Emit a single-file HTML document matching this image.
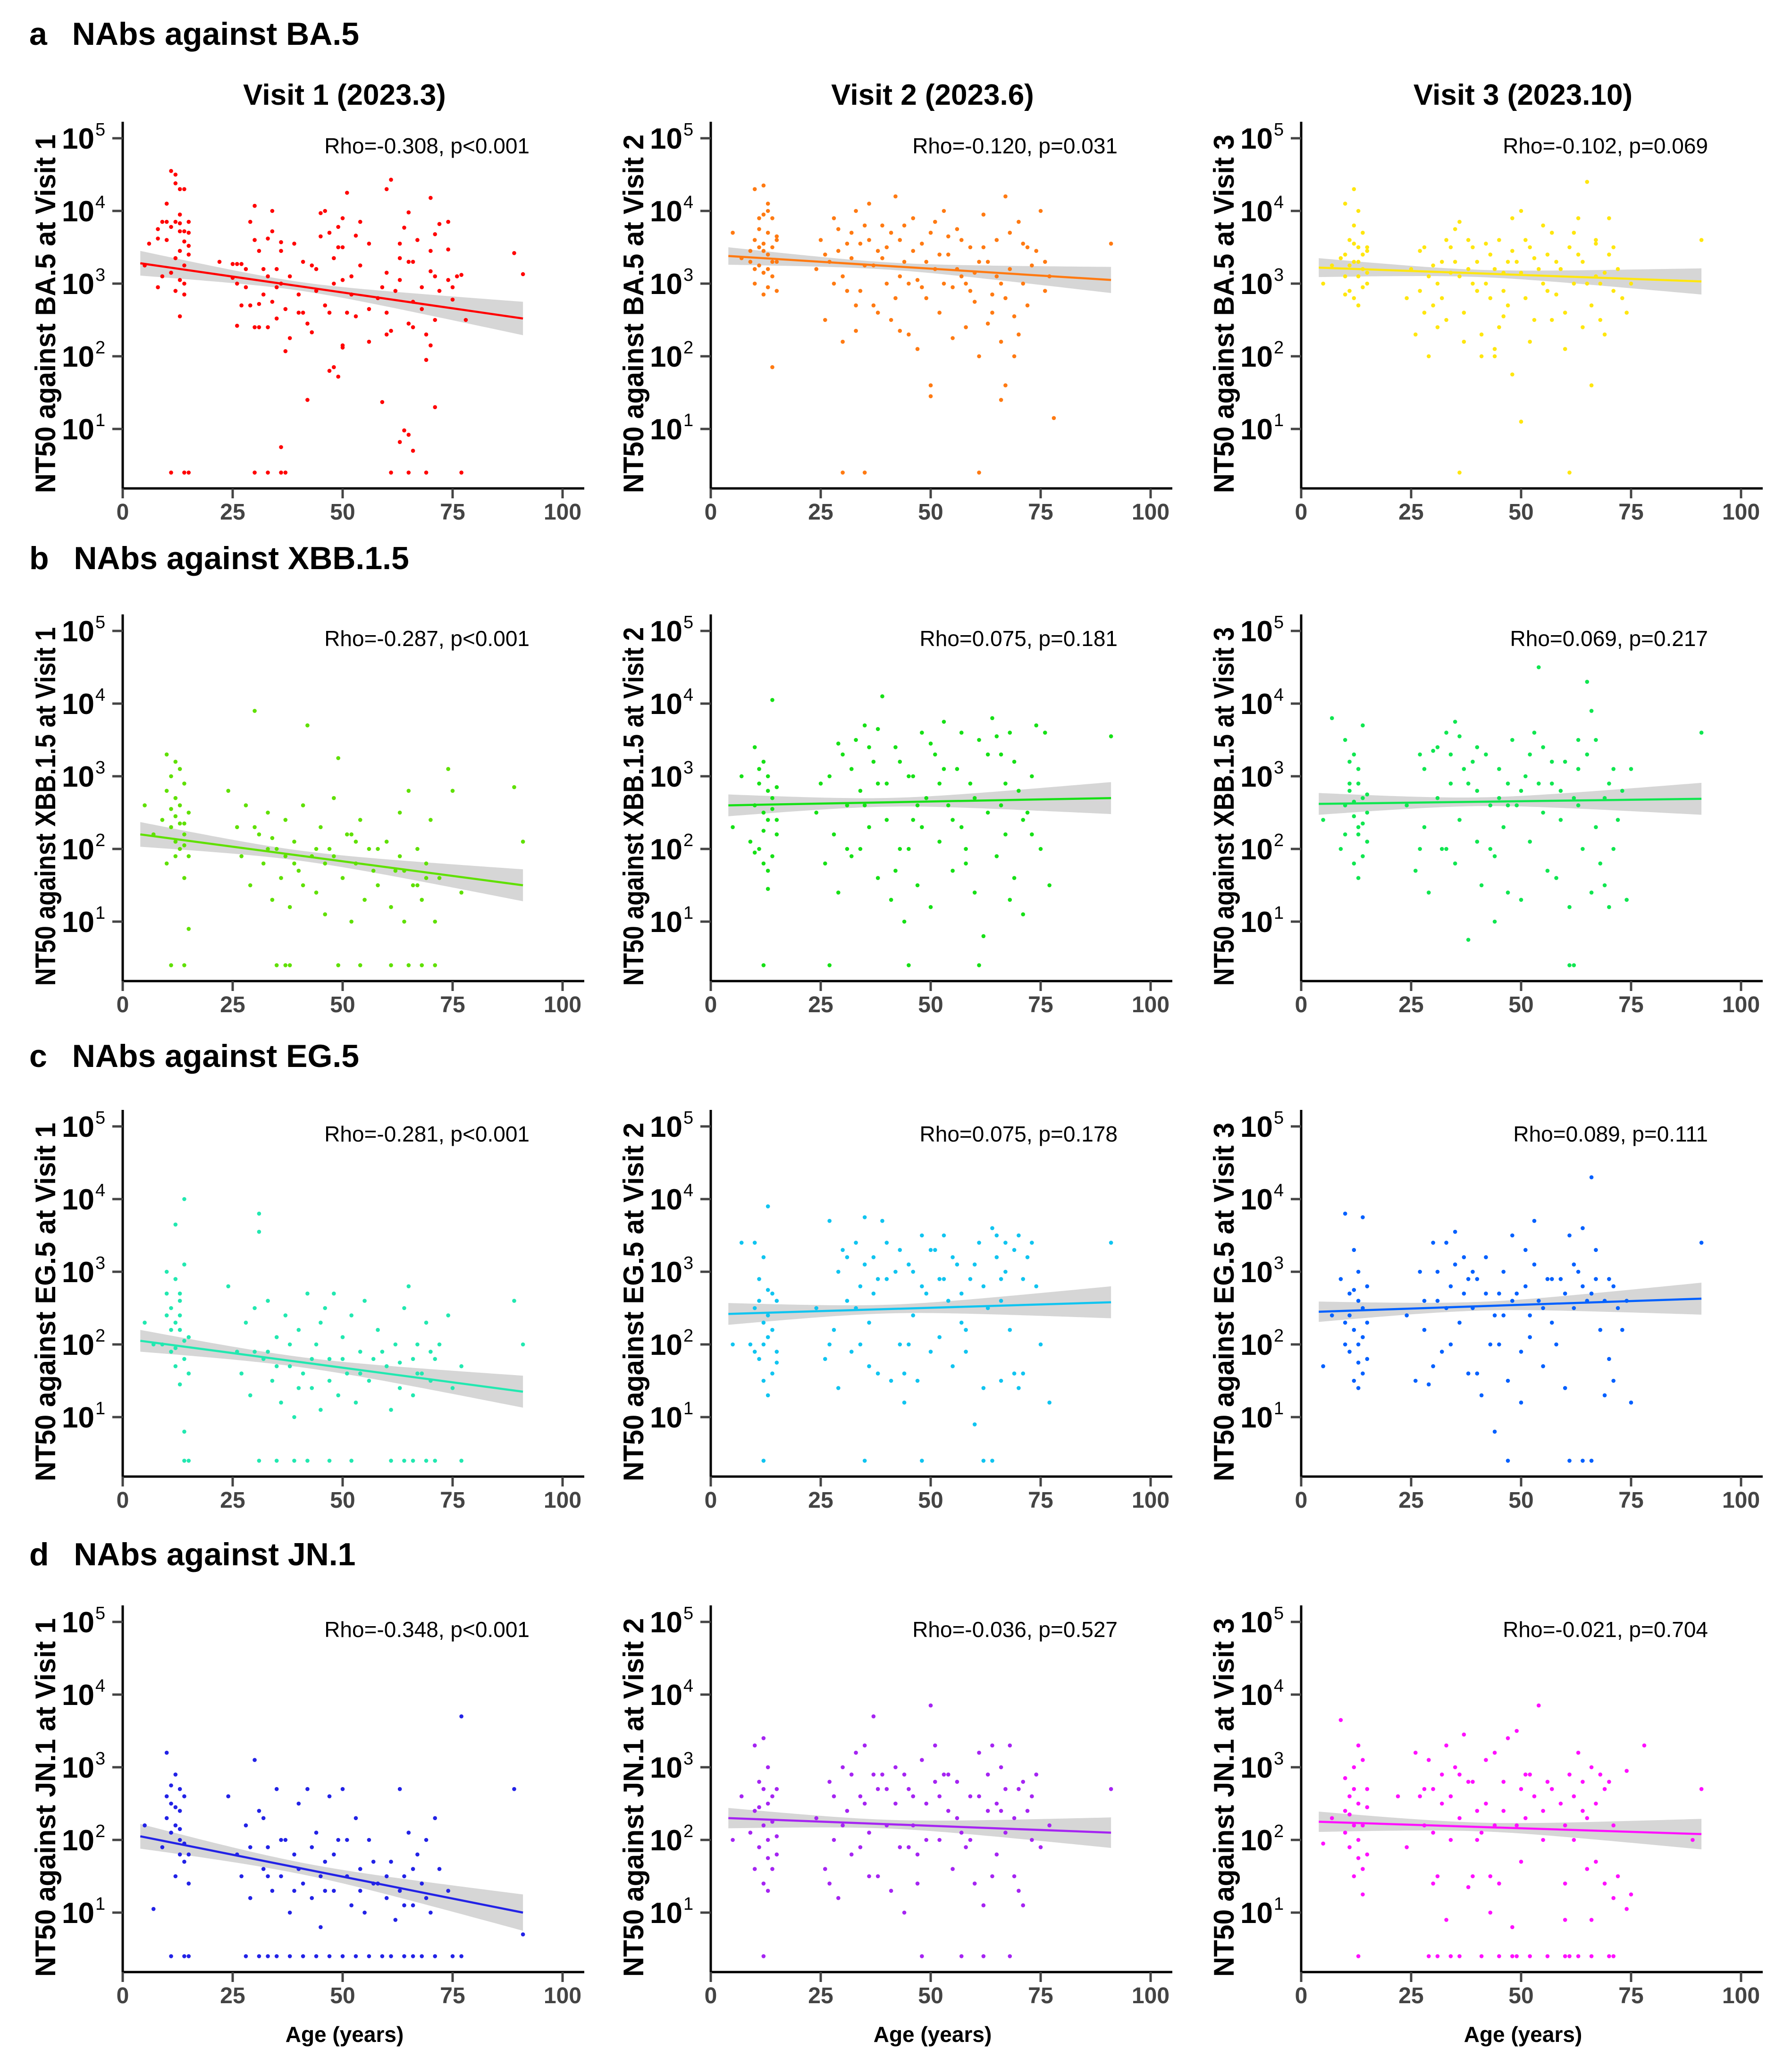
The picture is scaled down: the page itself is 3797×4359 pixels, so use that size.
<!DOCTYPE html>
<html><head><meta charset="utf-8"><style>
html,body{margin:0;padding:0;background:#fff;}
svg{display:block;}
</style></head><body>
<svg id="fig" xmlns="http://www.w3.org/2000/svg" width="3797" height="4359" viewBox="0 0 3797 4359" font-family="Liberation Sans, sans-serif"></svg>
<script>
// ---- data: [age, log10(NT50)] ----
const ba5v1=[[11,4.55],[12,4.5],[12,4.38],[13,4.3],[14,4.3],[10,4.1],[13,3.95],[9,3.85],[10,3.85],[12,3.85],[13,3.83],[15,3.85],[8,3.75],[11,3.78],[13,3.72],[14,3.72],[15,3.7],[8,3.62],[10,3.6],[14,3.58],[15,3.52],[6,3.55],[13,3.45],[15,3.4],[12,3.35],[14,3.25],[9,3.1],[11,3.15],[13,3.05],[14,3.0],[8,2.95],[12,2.9],[14,2.85],[13,2.55],[5,3.25],[22,3.3],[25,3.27],[26,3.27],[28,3.2],[27,3.27],[25,3.08],[26,3.0],[30,4.07],[29,3.85],[30,3.6],[31,3.45],[32,3.2],[33,3.62],[34,3.72],[34,4.0],[33,3.1],[35,3.2],[36,3.57],[36,3.45],[35,2.95],[31,2.72],[30,2.4],[31,2.4],[33,2.4],[26,2.42],[27,2.7],[29,2.7],[34,2.75],[35,2.52],[36,3.0],[37,2.65],[37,2.07],[38,2.25],[39,3.55],[40,2.85],[41,3.3],[41,2.6],[42,2.45],[43,3.25],[43,2.33],[44,3.2],[45,3.65],[45,3.97],[46,4.0],[46,2.7],[47,2.6],[47,3.7],[48,3.35],[49,3.78],[49,3.5],[50,3.9],[50,3.5],[51,4.25],[50,3.05],[51,2.6],[47,1.8],[48,1.85],[49,1.72],[50,2.15],[50,2.12],[52,3.1],[53,3.66],[53,2.55],[54,3.85],[54,3.25],[56,3.55],[56,2.2],[56,2.65],[59,2.95],[60,4.3],[60,3.15],[60,2.6],[60,2.3],[61,2.35],[61,4.43],[63,3.55],[63,3.35],[63,3.05],[64,3.77],[65,3.98],[65,3.3],[65,2.45],[66,3.3],[66,2.4],[67,3.6],[68,2.95],[69,1.95],[69,2.3],[70,4.18],[70,3.45],[70,3.17],[70,2.15],[71,3.68],[71,3.1],[71,2.5],[72,3.82],[74,3.85],[74,3.47],[74,3.05],[75,2.95],[75,2.78],[76,3.1],[77,3.12],[78,2.5],[89,3.42],[91,3.13],[42,1.4],[36,0.75],[59,1.37],[63,0.82],[64,0.98],[65,0.92],[66,0.7],[71,1.3],[11,0.4],[14,0.4],[15,0.4],[30,0.4],[33,0.4],[36,0.4],[37,0.4],[61,0.4],[65,0.4],[69,0.4],[77,0.4],[28,2.95],[32,2.85],[38,3.1],[40,2.6],[44,2.9],[48,3.0],[52,2.85],[58,2.8],[62,2.9],[66,2.75],[68,2.65],[72,2.9]];
const ba5v2=[[10,4.3],[12,4.35],[13,4.1],[12,3.95],[14,3.9],[11,3.75],[13,3.7],[15,3.65],[10,3.6],[12,3.55],[14,3.5],[9,3.45],[13,3.4],[15,3.3],[11,3.25],[12,3.15],[14,3.1],[10,3.0],[13,2.95],[15,2.9],[12,2.85],[9,3.3],[5,3.7],[7,3.35],[14,1.85],[11,3.5],[13,3.2],[15,3.6],[25,3.6],[27,3.3],[28,3.9],[29,3.45],[30,3.1],[31,2.9],[32,3.7],[33,4.0],[34,3.55],[35,3.25],[36,4.1],[37,2.7],[38,3.45],[39,3.8],[40,3.0],[41,2.5],[42,4.2],[43,3.6],[44,3.3],[45,2.3],[46,3.9],[47,3.05],[48,3.55],[49,2.8],[50,3.7],[51,3.2],[52,2.6],[53,4.0],[54,3.4],[55,2.95],[56,3.75],[57,3.1],[58,2.4],[59,3.5],[60,2.75],[62,3.95],[63,3.3],[64,2.85],[65,3.6],[66,2.2],[67,4.2],[68,3.2],[69,2.55],[70,3.85],[71,3.0],[72,2.7],[74,3.45],[75,4.0],[77,3.1],[91,3.55],[26,2.5],[30,2.2],[33,2.35],[38,2.6],[43,2.35],[47,2.1],[55,2.25],[61,2.0],[64,2.6],[69,2.0],[24,3.2],[34,2.9],[44,3.8],[58,3.0],[63,2.45],[70,2.3],[28,3.0],[32,3.35],[36,3.6],[40,3.5],[45,3.0],[49,3.3],[53,3.0],[57,3.6],[61,3.3],[66,3.0],[72,3.5],[76,3.3],[50,1.6],[50,1.45],[66,1.4],[67,1.6],[78,1.15],[30,0.4],[35,0.4],[61,0.4],[11,3.9],[13,4.0],[12,3.45],[14,3.3],[10,3.2],[29,3.75],[31,3.55],[35,3.8],[37,3.25],[39,3.35],[41,3.7],[43,3.1],[46,3.45],[48,2.95],[51,3.85],[54,3.65],[56,3.2],[59,2.9],[62,3.5],[65,3.1],[68,3.7],[71,3.55],[73,3.25],[76,2.9],[26,3.4],[33,2.7],[42,2.8],[52,3.4],[60,3.15],[67,2.8]];
const ba5v3=[[10,4.1],[12,4.3],[13,4.0],[12,3.8],[14,3.7],[11,3.6],[13,3.5],[15,3.45],[10,3.4],[12,3.3],[14,3.2],[9,3.35],[13,3.1],[15,3.0],[11,2.9],[12,2.8],[14,2.95],[10,3.1],[13,2.7],[5,3.0],[7,3.25],[15,3.5],[25,3.2],[27,2.9],[28,3.5],[29,3.1],[30,2.7],[31,2.4],[32,3.3],[33,3.6],[34,3.15],[35,3.75],[36,3.85],[37,2.6],[38,3.2],[39,3.5],[40,2.9],[41,2.3],[42,3.0],[43,3.4],[44,2.1],[45,3.6],[46,3.15],[47,2.7],[48,3.9],[49,3.3],[50,4.0],[51,2.8],[52,3.5],[53,2.5],[54,3.2],[55,3.8],[56,2.9],[58,3.3],[60,2.6],[61,3.5],[62,3.0],[63,3.9],[64,3.3],[65,4.4],[66,2.7],[67,3.6],[68,3.0],[69,2.3],[70,3.4],[71,2.9],[72,3.2],[74,2.6],[75,3.0],[91,3.6],[26,2.3],[29,2.0],[33,2.5],[37,2.2],[41,2.0],[45,2.4],[48,1.75],[44,2.0],[52,2.2],[57,2.5],[60,2.1],[64,2.4],[66,1.6],[68,2.5],[24,2.8],[31,3.0],[35,3.3],[39,3.0],[43,2.8],[47,3.3],[51,3.6],[56,3.4],[62,3.7],[67,3.1],[70,3.9],[50,1.1],[36,0.4],[61,0.4],[11,3.25],[12,3.55],[13,3.3],[14,3.4],[15,3.15],[10,2.85],[27,3.45],[30,3.25],[32,2.8],[34,3.5],[36,3.1],[38,3.6],[40,3.3],[42,3.55],[44,3.2],[46,2.9],[48,3.45],[50,3.15],[53,3.35],[55,3.0],[57,3.7],[59,3.2],[63,3.4],[65,3.0],[67,3.55],[69,3.15],[71,3.5],[73,2.8],[28,2.6],[46,2.55],[58,2.85]];
const xbbv1=[[10,3.3],[12,3.2],[13,3.1],[11,3.0],[14,2.9],[10,2.8],[12,2.7],[13,2.6],[15,2.5],[9,2.4],[11,2.3],[14,2.2],[12,2.1],[13,2.0],[15,1.9],[10,1.8],[14,1.6],[5,2.6],[7,2.2],[15,0.9],[12,2.45],[14,2.35],[24,2.8],[26,2.3],[27,1.9],[28,2.6],[29,1.5],[30,3.9],[31,2.2],[32,1.8],[33,2.5],[34,1.3],[35,2.0],[36,1.6],[37,2.4],[38,1.2],[39,2.1],[40,1.7],[41,2.6],[42,3.7],[43,1.9],[44,1.4],[45,2.3],[46,1.1],[47,2.0],[48,2.7],[49,3.25],[50,1.6],[51,2.2],[52,1.0],[53,1.8],[54,2.4],[55,1.3],[56,2.0],[58,1.5],[60,2.1],[61,1.2],[62,1.7],[63,2.5],[64,1.0],[65,2.8],[66,1.5],[67,2.0],[68,1.3],[69,1.8],[70,2.4],[71,1.0],[72,1.6],[74,3.1],[75,2.8],[77,1.4],[89,2.85],[91,2.1],[33,2.0],[37,1.9],[41,1.5],[46,1.8],[53,2.1],[57,1.7],[63,1.9],[67,1.5],[11,0.4],[14,0.4],[35,0.4],[37,0.4],[38,0.4],[49,0.4],[54,0.4],[61,0.4],[65,0.4],[68,0.4],[71,0.4],[11,2.55],[13,2.35],[12,1.9],[14,2.05],[30,2.3],[34,2.15],[39,1.8],[44,2.0],[48,1.9],[52,2.2],[58,2.0],[64,1.7],[69,1.6]];
const xbbv2=[[10,3.4],[12,3.2],[13,3.0],[11,2.9],[14,2.7],[10,2.6],[12,2.5],[13,2.4],[15,2.2],[9,2.1],[11,2.0],[14,1.9],[12,1.8],[13,1.7],[15,2.85],[14,4.05],[5,2.3],[7,3.0],[13,1.45],[24,2.5],[26,1.8],[27,3.0],[28,2.2],[29,1.4],[30,3.3],[31,2.6],[32,1.9],[33,3.5],[34,2.8],[35,3.7],[36,2.3],[37,3.2],[38,1.6],[39,4.1],[40,2.9],[41,1.3],[42,3.4],[43,2.0],[44,1.0],[45,3.0],[46,2.4],[47,1.5],[48,3.6],[49,2.7],[50,1.2],[51,3.3],[52,2.1],[53,3.75],[54,2.6],[55,1.7],[56,3.1],[57,2.3],[59,2.9],[60,1.4],[61,3.5],[62,0.8],[63,2.5],[64,3.8],[65,1.9],[66,3.3],[67,2.2],[68,3.6],[69,1.6],[70,2.8],[71,1.1],[72,2.5],[74,3.7],[75,2.0],[77,1.5],[91,3.55],[34,2.0],[38,2.9],[45,2.0],[52,2.9],[58,2.0],[66,2.6],[73,2.2],[12,0.4],[27,0.4],[45,0.4],[61,0.4],[11,3.1],[13,2.8],[12,2.25],[14,2.55],[10,1.95],[15,2.4],[29,3.45],[32,3.1],[35,2.6],[36,3.4],[38,3.65],[40,2.4],[43,3.2],[46,3.0],[48,2.3],[50,3.45],[53,3.1],[55,2.4],[57,3.6],[60,2.7],[63,3.3],[65,3.55],[67,2.9],[69,3.2],[71,2.4],[73,3.0],[76,3.6],[25,2.9],[31,2.0],[42,1.7],[47,2.6],[58,1.8],[68,1.3]];
const xbbv3=[[10,3.5],[12,3.3],[13,3.1],[11,2.9],[14,2.7],[10,2.6],[12,2.45],[13,2.3],[15,2.1],[9,2.0],[11,2.8],[14,1.9],[12,1.8],[13,1.6],[15,2.5],[14,3.7],[5,2.4],[7,3.8],[13,2.2],[24,2.6],[26,1.7],[27,3.3],[28,2.3],[29,1.4],[30,3.35],[31,2.7],[32,2.0],[33,3.6],[34,2.9],[35,3.75],[36,2.4],[37,3.1],[38,0.75],[39,3.2],[40,2.8],[41,1.5],[42,3.3],[43,2.0],[44,1.0],[45,2.7],[46,2.3],[47,1.4],[48,3.5],[49,2.6],[50,1.3],[51,3.0],[52,2.1],[53,3.6],[54,4.5],[55,2.5],[56,1.7],[57,2.9],[59,2.4],[60,3.2],[61,1.2],[62,2.7],[63,3.5],[64,2.0],[65,4.3],[66,3.9],[67,2.3],[68,1.8],[69,1.5],[70,2.9],[71,2.0],[72,2.4],[74,1.3],[75,3.1],[91,3.6],[33,2.0],[40,2.1],[47,2.6],[55,3.4],[63,2.6],[70,1.2],[61,0.4],[62,0.4],[11,3.2],[12,2.65],[13,2.9],[14,2.35],[15,2.75],[10,2.2],[28,3.1],[31,3.4],[34,3.3],[36,3.55],[38,2.9],[40,3.4],[43,2.6],[45,3.1],[47,2.9],[50,2.8],[52,3.3],[54,2.9],[57,3.2],[59,2.8],[63,3.1],[65,3.3],[67,3.5],[69,2.7],[71,3.1],[73,2.8],[27,2.0],[35,1.8],[44,1.9],[58,1.6],[66,1.4]];
const eg5v1=[[10,3.0],[12,2.9],[13,2.7],[11,2.5],[14,3.1],[10,2.4],[12,2.3],[13,2.2],[15,2.1],[9,2.0],[11,1.9],[14,1.8],[12,1.7],[13,2.6],[15,1.6],[14,4.0],[12,3.65],[5,2.3],[7,2.0],[14,0.8],[13,1.45],[24,2.8],[26,1.9],[27,1.6],[28,2.3],[29,1.3],[30,2.5],[31,3.8],[31,3.55],[32,1.8],[33,2.6],[34,1.5],[35,2.1],[36,1.2],[37,2.4],[38,1.7],[39,1.0],[40,2.2],[41,1.6],[42,2.7],[43,1.4],[44,2.0],[45,1.1],[46,2.5],[47,1.8],[48,2.7],[49,1.3],[50,2.1],[51,1.6],[52,2.4],[53,1.2],[54,1.9],[55,2.6],[56,1.5],[58,2.2],[60,1.7],[61,1.1],[62,2.0],[63,1.4],[64,2.5],[65,2.8],[66,1.3],[67,2.0],[68,1.6],[69,2.3],[70,1.5],[71,1.8],[72,2.0],[74,2.4],[75,1.4],[77,1.7],[89,2.6],[91,2.0],[33,1.9],[40,1.4],[47,1.5],[57,1.8],[66,1.8],[14,0.4],[15,0.4],[31,0.4],[35,0.4],[39,0.4],[42,0.4],[47,0.4],[52,0.4],[61,0.4],[64,0.4],[66,0.4],[69,0.4],[71,0.4],[77,0.4],[11,2.2],[12,1.95],[13,2.4],[14,2.05],[10,2.7],[30,1.9],[35,1.7],[38,2.0],[43,1.8],[45,2.3],[50,1.8],[54,1.6],[59,1.9],[63,1.75],[67,1.6],[70,1.9]];
const eg5v2=[[10,3.4],[12,3.2],[13,3.9],[11,2.9],[14,2.7],[10,2.5],[12,2.3],[13,2.1],[15,1.9],[9,2.0],[11,1.8],[14,1.6],[12,1.5],[13,2.4],[15,2.6],[5,2.0],[7,3.4],[13,1.3],[24,2.5],[26,1.8],[27,3.7],[28,2.2],[29,1.4],[30,3.3],[31,2.6],[32,1.9],[33,3.4],[34,2.8],[35,3.75],[36,2.3],[37,3.2],[38,1.6],[39,3.7],[40,2.9],[41,1.5],[42,3.0],[43,2.0],[44,1.2],[45,3.1],[46,2.4],[47,1.5],[48,3.5],[49,2.7],[50,1.9],[51,3.3],[52,2.1],[53,3.5],[54,2.6],[55,1.7],[56,3.1],[57,2.3],[59,2.9],[60,0.9],[61,3.4],[62,1.4],[63,2.5],[64,3.6],[65,3.2],[66,2.9],[67,3.4],[68,2.2],[69,1.6],[70,3.5],[71,1.6],[72,3.2],[74,2.8],[75,2.0],[77,1.2],[91,3.4],[34,2.0],[38,2.9],[45,2.0],[52,2.9],[58,2.2],[66,2.6],[73,3.4],[12,0.4],[35,0.4],[48,0.4],[62,0.4],[64,0.4],[11,2.6],[12,2.0],[13,2.75],[14,2.2],[15,1.75],[10,1.9],[29,3.0],[31,3.2],[33,2.5],[35,3.1],[37,2.7],[40,3.4],[43,3.3],[46,3.0],[48,2.8],[50,3.3],[53,2.9],[55,3.2],[57,2.7],[60,3.1],[62,2.8],[65,3.5],[67,3.0],[69,3.3],[71,2.9],[27,2.0],[36,1.7],[44,1.6],[58,1.9],[66,1.5],[70,1.4]];
const eg5v3=[[10,3.8],[12,3.3],[13,3.0],[11,2.7],[14,2.5],[10,2.3],[12,2.2],[13,2.0],[15,1.8],[9,2.9],[11,1.9],[14,1.6],[12,1.5],[13,2.6],[15,2.8],[14,3.75],[5,1.7],[7,2.4],[13,1.4],[24,2.4],[26,1.5],[27,3.0],[28,2.2],[29,1.45],[30,3.4],[31,2.6],[32,1.9],[33,3.4],[34,2.8],[35,3.55],[36,2.3],[37,3.2],[38,1.6],[39,3.0],[40,2.9],[41,1.3],[42,3.2],[43,2.0],[44,0.8],[45,2.7],[46,2.4],[47,1.5],[48,3.5],[49,2.7],[50,1.2],[51,3.3],[52,2.1],[53,3.7],[54,2.6],[55,1.7],[56,2.9],[57,2.3],[59,2.9],[60,1.4],[61,3.5],[62,2.5],[63,3.0],[64,3.6],[65,2.6],[66,4.3],[67,3.3],[68,2.2],[69,1.3],[70,2.9],[71,1.5],[72,2.5],[74,2.6],[75,1.2],[91,3.4],[34,2.0],[38,2.9],[45,2.0],[52,2.4],[58,2.0],[66,2.7],[73,2.2],[47,0.4],[61,0.4],[64,0.4],[66,0.4],[11,2.4],[12,2.75],[13,1.75],[14,2.1],[10,2.0],[15,2.3],[28,2.6],[31,3.0],[33,2.5],[35,3.1],[37,2.7],[39,2.5],[42,2.7],[44,2.4],[46,3.0],[48,2.6],[51,2.8],[53,3.1],[55,2.5],[57,2.9],[60,2.7],[62,3.1],[64,2.8],[67,2.9],[69,2.6],[71,2.8],[30,1.7],[40,1.6],[50,1.9],[70,1.8]];
const jn1v1=[[10,3.2],[12,2.9],[13,2.7],[11,2.5],[14,2.6],[10,2.3],[12,2.2],[13,2.0],[15,1.8],[9,1.9],[11,2.1],[14,1.7],[12,1.5],[13,2.4],[15,1.4],[5,2.2],[7,1.05],[13,1.8],[24,2.6],[26,1.8],[27,1.5],[28,2.2],[29,1.2],[30,3.1],[31,2.4],[32,1.6],[33,1.9],[34,1.3],[35,2.7],[36,1.5],[37,2.0],[38,1.0],[39,1.8],[40,2.5],[41,1.4],[42,2.7],[43,1.2],[44,2.1],[45,0.8],[46,1.7],[47,2.6],[48,1.3],[49,2.0],[50,2.7],[51,1.5],[52,1.1],[53,2.3],[54,1.6],[55,1.0],[56,2.0],[58,1.4],[60,1.2],[61,1.7],[62,0.9],[63,2.7],[64,1.5],[65,2.1],[66,1.1],[67,1.8],[68,1.4],[69,2.0],[70,1.0],[71,2.3],[72,1.6],[74,1.3],[77,3.7],[89,2.7],[91,0.7],[33,1.5],[40,1.6],[46,1.3],[57,1.4],[64,1.1],[11,0.4],[14,0.4],[15,0.4],[28,0.4],[31,0.4],[33,0.4],[35,0.4],[38,0.4],[41,0.4],[44,0.4],[47,0.4],[50,0.4],[53,0.4],[56,0.4],[59,0.4],[61,0.4],[64,0.4],[66,0.4],[68,0.4],[71,0.4],[75,0.4],[77,0.4],[11,2.75],[12,2.45],[13,2.15],[14,1.95],[10,2.6],[29,1.9],[32,2.3],[36,2.0],[39,1.3],[43,1.9],[45,1.5],[48,1.8],[51,2.0],[54,1.3],[57,1.7],[60,1.5],[63,1.3],[66,1.6],[69,1.2]];
const jn1v2=[[10,3.3],[12,3.4],[13,3.0],[11,2.8],[14,2.6],[10,2.4],[12,2.2],[13,2.0],[15,1.8],[9,2.1],[11,1.9],[14,1.6],[12,1.4],[13,2.5],[15,2.7],[5,2.0],[7,2.6],[13,1.3],[24,2.3],[26,1.6],[27,2.8],[28,2.0],[29,1.2],[30,3.0],[31,2.4],[32,1.8],[33,3.2],[34,2.6],[35,3.3],[36,2.1],[37,3.7],[38,1.5],[39,2.9],[40,2.7],[41,1.3],[42,3.0],[43,1.9],[44,1.0],[45,2.7],[46,2.2],[47,1.4],[48,3.1],[49,2.5],[50,3.85],[51,3.3],[52,2.0],[53,2.9],[54,2.4],[55,1.6],[56,2.8],[57,2.1],[59,2.6],[60,1.4],[61,3.2],[62,1.1],[63,2.4],[64,3.3],[65,1.8],[66,3.0],[67,2.1],[68,3.3],[69,1.5],[70,2.7],[71,1.1],[72,2.4],[74,2.9],[75,1.9],[77,2.2],[91,2.7],[34,1.9],[38,2.7],[45,1.9],[52,2.6],[58,1.9],[66,2.4],[73,2.0],[12,0.4],[48,0.4],[57,0.4],[62,0.4],[68,0.4],[11,2.45],[12,2.7],[13,1.75],[14,2.25],[10,1.6],[15,2.05],[28,2.6],[30,2.2],[32,2.9],[35,2.5],[37,2.9],[40,2.2],[42,2.5],[44,2.9],[46,2.6],[49,2.0],[51,2.8],[54,2.9],[56,2.3],[59,2.0],[61,2.6],[63,2.9],[65,2.5],[67,2.7],[69,2.3],[71,2.8],[73,2.6],[27,1.4],[36,1.5],[47,1.8],[64,1.5],[70,1.3]];
const jn1v3=[[10,2.85],[12,3.0],[13,3.3],[11,2.6],[14,3.1],[10,2.4],[12,2.2],[13,2.0],[15,1.8],[9,3.65],[11,1.9],[14,1.6],[12,1.5],[13,2.5],[15,2.7],[5,1.95],[7,2.3],[14,1.25],[22,2.6],[24,1.9],[26,3.2],[27,2.6],[28,2.2],[29,3.1],[30,2.7],[31,1.5],[32,2.5],[33,3.3],[34,2.0],[35,3.0],[36,2.9],[37,3.45],[38,1.35],[39,2.8],[40,2.4],[41,2.1],[42,3.1],[43,1.5],[44,3.2],[45,1.4],[46,2.8],[47,3.4],[48,0.8],[49,3.5],[50,2.7],[51,2.3],[52,2.9],[54,3.85],[55,2.0],[56,2.8],[59,2.5],[60,1.4],[61,2.9],[62,2.0],[63,3.2],[64,2.4],[65,2.3],[66,3.0],[67,1.7],[68,2.9],[69,1.4],[70,2.8],[71,1.2],[72,1.5],[74,2.95],[75,1.25],[78,3.3],[89,2.0],[91,2.7],[33,0.9],[43,1.0],[60,0.9],[66,0.9],[74,1.05],[13,0.4],[29,0.4],[31,0.4],[34,0.4],[36,0.4],[41,0.4],[45,0.4],[48,0.4],[49,0.4],[52,0.4],[56,0.4],[60,0.4],[61,0.4],[63,0.4],[66,0.4],[70,0.4],[71,0.4],[11,2.35],[12,2.7],[13,1.75],[14,2.2],[15,2.45],[10,2.1],[28,2.7],[30,2.1],[32,2.9],[34,2.6],[36,2.3],[38,2.8],[40,2.0],[42,2.5],[44,2.2],[46,2.4],[49,2.2],[51,2.9],[53,2.6],[55,2.4],[57,2.7],[60,2.2],[62,2.6],[64,2.8],[67,2.5],[69,2.7],[71,2.2],[30,1.4],[39,1.5],[50,1.7],[65,1.6]];
// regression fit (log10 at age 4 and age 91) and CI half-width (start, mid, end) in log10
const regStart=[3.28,3.38,3.22, 2.2,2.6,2.62, 2.05,2.42,2.45, 2.05,2.3,2.25];
const regEnd  =[2.52,3.05,3.03, 1.5,2.7,2.69, 1.35,2.58,2.63, 1.0,2.1,2.08];
const ciStart =[0.17,0.12,0.13, 0.17,0.15,0.15, 0.15,0.15,0.14, 0.17,0.14,0.14];
const ciMid   =[0.06,0.05,0.05, 0.07,0.06,0.06, 0.07,0.06,0.06, 0.08,0.06,0.06];
const ciEnd   =[0.23,0.18,0.18, 0.22,0.22,0.22, 0.22,0.22,0.22, 0.25,0.21,0.21];
const rhoLabels=["Rho=-0.308, p<0.001","Rho=-0.120, p=0.031","Rho=-0.102, p=0.069","Rho=-0.287, p<0.001","Rho=0.075, p=0.181","Rho=0.069, p=0.217","Rho=-0.281, p<0.001","Rho=0.075, p=0.178","Rho=0.089, p=0.111","Rho=-0.348, p<0.001","Rho=-0.036, p=0.527","Rho=-0.021, p=0.704"];
const variants=["BA.5","XBB.1.5","EG.5","JN.1"];
const rowLetters=["a","b","c","d"];
const visitTitles=["Visit 1 (2023.3)","Visit 2 (2023.6)","Visit 3 (2023.10)"];
const xTicks=[0,25,50,75,100];
const yTicks=[1,2,3,4,5];
const datasets=[ba5v1,ba5v2,ba5v3,xbbv1,xbbv2,xbbv3,eg5v1,eg5v2,eg5v3,jn1v1,jn1v2,jn1v3];
const colors=["#ff0000","#ff7a12","#ffe60f","#5fe000","#16e016","#10e650","#22e8b0","#10c4f0","#0060ff","#2222e6","#a524f2","#ff10ff"];

const NS="http://www.w3.org/2000/svg";
const svg=document.getElementById('fig');
function mk(tag,attrs,parent){const e=document.createElementNS(NS,tag);for(const k in attrs)e.setAttribute(k,attrs[k]);(parent||svg).appendChild(e);return e;}
const colX=[260,1506,2757];
const rowTop=[293,1337,2387,3437]; // y of 10^5 tick
const DEC=154, PXY=9.32;
const rowTitleY=[95,1206,2261,3317];

for(let r=0;r<4;r++){
  const t=mk('text',{x:62,y:rowTitleY[r],'font-size':68,'font-weight':'bold',fill:'#000'});
  
  
  t.textContent=rowLetters[r]+"\u2002 NAbs against "+variants[r];
}
for(let c=0;c<3;c++){
  const t=mk('text',{x:colX[c]+470,y:222,'font-size':62,'font-weight':'bold','text-anchor':'middle',fill:'#000'});
  
  
  t.textContent=visitTitles[c];
}
for(let r=0;r<4;r++){for(let c=0;c<3;c++){
  const i=r*3+c, X0=colX[c], T=rowTop[r];
  const xs=a=>X0+a*PXY, ys=l=>T+(5-l)*DEC;
  const g=mk('g',{});
  
  
  const base=T+742;
  const a0=4,a1=91,am=40;
  const hw=a=>{const k=a<am?(a-am)/(a0-am):(a-am)/(a1-am);const e=a<am?ciStart[i]:ciEnd[i];return Math.sqrt(ciMid[i]*ciMid[i]+(e*e-ciMid[i]*ciMid[i])*k*k);};
  const fit=a=>regStart[i]+(regEnd[i]-regStart[i])*(a-a0)/(a1-a0);
  let up=[],lo=[];
  for(let a=a0;a<=a1+0.01;a+=1){up.push(xs(a)+','+ys(fit(a)+hw(a)));lo.unshift(xs(a)+','+ys(fit(a)-hw(a)));}
  const band=mk('polygon',{points:up.concat(lo).join(' '),fill:'#d6d6d6'},g);
  
  
  const pg=mk('g',{fill:colors[i]},g);
  
  
  for(const p of datasets[i]){
    const d=mk('circle',{cx:xs(p[0]),cy:ys(p[1]),r:4.3},pg);
    
    
  }
  const ln=mk('line',{x1:xs(a0),y1:ys(fit(a0)),x2:xs(a1),y2:ys(fit(a1)),stroke:colors[i],'stroke-width':4.5},g);
  
  
  const ya=mk('line',{x1:X0,y1:T-35,x2:X0,y2:base+2,stroke:'#000','stroke-width':5},g);
  
  
  const xa=mk('line',{x1:X0-2,y1:base,x2:X0+978,y2:base,stroke:'#000','stroke-width':5},g);
  
  
  for(const v of yTicks){
    const y=ys(v);
    mk('line',{x1:X0-22,y1:y,x2:X0,y2:y,stroke:'#444','stroke-width':5},g);
    const tl=mk('text',{x:X0-60,y:y+22,'font-size':62,'font-weight':'bold','text-anchor':'end',fill:'#000'},g);
    
    
    tl.textContent='10';
    const sp=mk('text',{x:X0-58,y:y-6,'font-size':38,'font-weight':'normal',fill:'#000'},g);
    
    
    sp.textContent=String(v);
  }
  for(const v of xTicks){
    const x=xs(v);
    mk('line',{x1:x,y1:base,x2:x,y2:base+21,stroke:'#444','stroke-width':5},g);
    const tl=mk('text',{x:x,y:base+66,'font-size':48,'font-weight':'bold','text-anchor':'middle',fill:'#444'},g);
    
    
    tl.textContent=String(v);
  }
  const yt=mk('text',{x:0,y:0,'font-size':60,'font-weight':'bold','text-anchor':'middle',fill:'#000',textLength:760,lengthAdjust:'spacingAndGlyphs',transform:'translate('+(X0-143)+','+(T+372)+') rotate(-90)'},g);
  
  
  yt.textContent='NT50 against '+variants[r]+' at Visit '+(c+1);
  const rt=mk('text',{x:X0+862,y:T+32,'font-size':46,'text-anchor':'end',fill:'#000'},g);
  
  
  rt.textContent=rhoLabels[i];
  if(r===3){
    const xt=mk('text',{x:X0+470,y:base+148,'font-size':46,'font-weight':'bold','text-anchor':'middle',fill:'#000'},g);
    
    
    xt.textContent='Age (years)';
  }
}}
</script>
</body></html>
